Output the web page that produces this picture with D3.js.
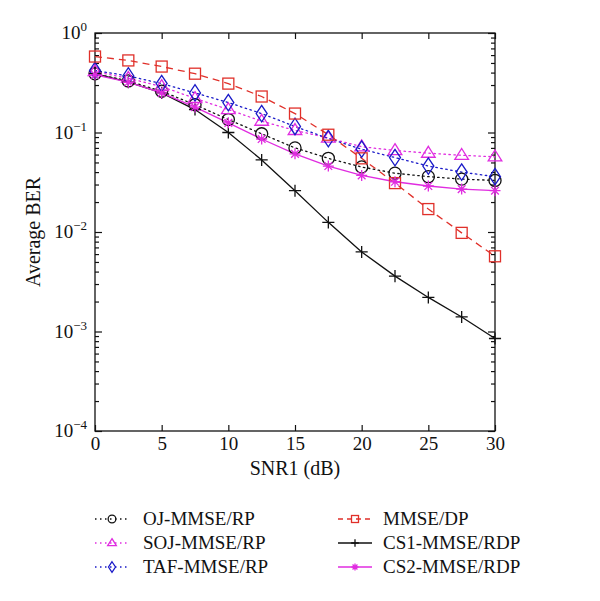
<!DOCTYPE html>
<html><head><meta charset="utf-8">
<script src="https://cdn.jsdelivr.net/npm/d3@7"></script>
<style>body{margin:0;background:#fff}svg{display:block}</style>
</head><body><svg id="c" width="600" height="601"></svg>
<script>
const snr = [0,2.5,5,7.5,10,12.5,15,17.5,20,22.5,25,27.5,30];
const ojMmseRp  = [0.39,0.33,0.26,0.19,0.135,0.097,0.070,0.055,0.045,0.039,0.036,0.034,0.033];
const sojMmseRp = [0.41,0.35,0.29,0.22,0.17,0.13,0.105,0.088,0.072,0.066,0.062,0.059,0.057];
const tafMmseRp = [0.42,0.37,0.31,0.25,0.20,0.155,0.115,0.087,0.068,0.056,0.046,0.040,0.036];
const mmseDp    = [0.58,0.53,0.46,0.39,0.31,0.23,0.155,0.095,0.055,0.031,0.017,0.0098,0.0057];
const cs1MmseRdp= [0.39,0.32,0.25,0.17,0.10,0.053,0.026,0.0125,0.0063,0.0036,0.0022,0.0014,0.00085];
const cs2MmseRdp= [0.38,0.32,0.25,0.18,0.125,0.086,0.061,0.046,0.037,0.032,0.029,0.027,0.026];
const xTicks = [0,5,10,15,20,25,30];
const yTicks = [1,0.1,0.01,0.001,0.0001];
const yExp = ["0","\u22121","\u22122","\u22123","\u22124"];

const series = [
  {name:"OJ-MMSE/RP", v:ojMmseRp, color:"#111", dash:"1.5,3.5", marker:"circle"},
  {name:"SOJ-MMSE/RP", v:sojMmseRp, color:"#e02ce0", dash:"1.5,3.5", marker:"triangle"},
  {name:"TAF-MMSE/RP", v:tafMmseRp, color:"#1a1ac8", dash:"1.5,3.5", marker:"diamond"},
  {name:"MMSE/DP", v:mmseDp, color:"#e0302a", dash:"7,5", marker:"square"},
  {name:"CS1-MMSE/RDP", v:cs1MmseRdp, color:"#111", dash:null, marker:"plus"},
  {name:"CS2-MMSE/RDP", v:cs2MmseRdp, color:"#e02ce0", dash:null, marker:"asterisk"}
];

const FONT="Liberation Serif";
const L=95,R=495,T=33,B=431;
const svg=d3.select("#c");
const x=d3.scaleLinear().domain([0,30]).range([L,R]);
const y=d3.scaleLog().domain([1e-4,1]).range([B,T]);

svg.append("rect").attr("x",L).attr("y",T).attr("width",R-L).attr("height",B-T)
  .attr("fill","none").attr("stroke","#111").attr("stroke-width",1.3);

const minor=[];
for(let e=-4;e<0;e++) for(let m=2;m<=9;m++) minor.push(m*Math.pow(10,e));

const g=svg.append("g");
const ab=g.append("g").attr("transform",`translate(0,${B})`)
  .call(d3.axisBottom(x).tickValues(xTicks).tickSize(-6).tickPadding(6).tickFormat(d3.format("d")));
g.append("g").attr("transform",`translate(0,${T})`).call(d3.axisTop(x).tickValues(xTicks).tickSize(-6).tickFormat(""));
g.append("g").attr("transform",`translate(${L},0)`).call(d3.axisLeft(y).tickValues(yTicks).tickSize(-7).tickFormat(""));
g.append("g").attr("transform",`translate(${L},0)`).call(d3.axisLeft(y).tickValues(minor).tickSize(-4).tickFormat(""));
g.append("g").attr("transform",`translate(${R},0)`).call(d3.axisRight(y).tickValues(yTicks).tickSize(-7).tickFormat(""));
g.append("g").attr("transform",`translate(${R},0)`).call(d3.axisRight(y).tickValues(minor).tickSize(-4).tickFormat(""));
g.selectAll(".domain").remove();
g.selectAll(".tick line").attr("stroke","#111").attr("stroke-width",1.2);
ab.selectAll("text").attr("font-size",19).attr("fill","#111");
g.attr("font-family",FONT);

yTicks.forEach((t,i)=>{
  const tx=svg.append("text").attr("x",L-8).attr("y",y(t)+6).attr("text-anchor","end").attr("font-size",19).attr("fill","#111");
  tx.append("tspan").text("10");
  tx.append("tspan").attr("dy",-8).attr("font-size",13).text(yExp[i]);
});

svg.append("text").attr("x",295).attr("y",475).attr("text-anchor","middle").attr("font-size",20).attr("fill","#111").text("SNR1 (dB)");
svg.append("text").attr("transform","translate(40,232) rotate(-90)").attr("text-anchor","middle").attr("font-size",20).attr("fill","#111").text("Average BER");

function drawMarker(g,type,cx,cy,color,s){
  const sw=1.3;
  if(type==="circle") g.append("circle").attr("cx",cx).attr("cy",cy).attr("r",s*0.55).attr("fill","none").attr("stroke",color).attr("stroke-width",sw);
  else if(type==="square") g.append("rect").attr("x",cx-s*0.5).attr("y",cy-s*0.5).attr("width",s).attr("height",s).attr("fill","none").attr("stroke",color).attr("stroke-width",sw);
  else if(type==="triangle"){const h=s*0.62;g.append("path").attr("d",`M${cx},${cy-h}L${cx+h},${cy+h*0.6}L${cx-h},${cy+h*0.6}Z`).attr("fill","none").attr("stroke",color).attr("stroke-width",sw);}
  else if(type==="diamond"){const w=s*0.5,h=s*0.75;g.append("path").attr("d",`M${cx},${cy-h}L${cx+w},${cy}L${cx},${cy+h}L${cx-w},${cy}Z`).attr("fill","none").attr("stroke",color).attr("stroke-width",sw);}
  else if(type==="plus"){const h=s*0.55;g.append("path").attr("d",`M${cx-h},${cy}L${cx+h},${cy}M${cx},${cy-h}L${cx},${cy+h}`).attr("stroke",color).attr("stroke-width",sw);}
  else if(type==="asterisk"){const h=s*0.5;let d=`M${cx-h},${cy}L${cx+h},${cy}M${cx},${cy-h}L${cx},${cy+h}`;const k=h*0.7;d+=`M${cx-k},${cy-k}L${cx+k},${cy+k}M${cx-k},${cy+k}L${cx+k},${cy-k}`;g.append("path").attr("d",d).attr("stroke",color).attr("stroke-width",sw);}
}

const line=d3.line().x((d,i)=>x(snr[i])).y(d=>y(d));
const plot=svg.append("g");
series.forEach(s=>{
  const p=plot.append("path").datum(s.v).attr("d",line).attr("fill","none").attr("stroke",s.color).attr("stroke-width",1.3);
  if(s.dash) p.attr("stroke-dasharray",s.dash);
  if(s.dash && s.dash.startsWith("1.5")) p.attr("stroke-linecap","round");
});
series.forEach(s=>{
  const gg=plot.append("g");
  s.v.forEach((v,i)=>drawMarker(gg,s.marker,x(snr[i]),y(v),s.color,11));
});

const legPos=[[95,519],[95,543],[95,567],[338,519],[338,543],[338,567]];
series.forEach((s,i)=>{
  const [lx,ly]=legPos[i];
  const gl=svg.append("g");
  const ln=gl.append("line").attr("x1",lx).attr("x2",lx+34).attr("y1",ly).attr("y2",ly).attr("stroke",s.color).attr("stroke-width",1.3);
  if(s.dash) ln.attr("stroke-dasharray",s.dash==="7,5"?"5,4":s.dash);
  drawMarker(gl,s.marker,lx+17,ly,s.color,7);
  gl.append("text").attr("x",lx+(i<3?48:45)).attr("y",ly+6).attr("font-size",19).attr("fill","#111").text(s.name);
});
svg.selectAll("text").attr("font-family",FONT);
</script></body></html>
